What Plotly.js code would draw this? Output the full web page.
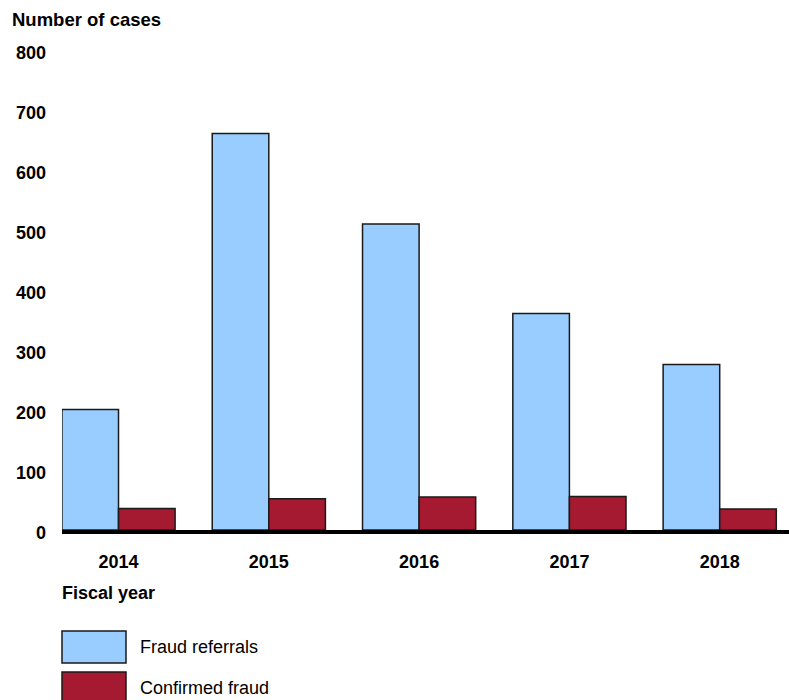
<!DOCTYPE html>
<html>
<head>
<meta charset="utf-8">
<script src="https://cdn.plot.ly/plotly-3.0.1.min.js"></script>
<style>
  html, body { margin: 0; padding: 0; background: #fff; overflow: hidden; }
  #chart { width: 789px; height: 700px; }
</style>
</head>
<body>
<div id="chart"></div>
<script>
// Fraud cases by fiscal year
const fiscalYears = ['2014', '2015', '2016', '2017', '2018'];
const fraudReferrals = [201, 661, 510, 361, 276];
const confirmedFraud = [36, 52, 55, 56, 35];
const yTickValues = [0, 100, 200, 300, 400, 500, 600, 700, 800];

const seriesNames = ['Fraud referrals', 'Confirmed fraud'];
const seriesColors = ['#99ccff', '#a51931'];

const FONT = 'Liberation Sans, Arial, Helvetica, sans-serif';
const outline = { color: '#1a1a1a', width: 1.5 };

const traces = [
  { type: 'bar', name: seriesNames[0], x: fiscalYears, y: fraudReferrals,
    marker: { color: seriesColors[0], line: outline }, hoverinfo: 'x+y+name' },
  { type: 'bar', name: seriesNames[1], x: fiscalYears, y: confirmedFraud,
    marker: { color: seriesColors[1], line: outline }, hoverinfo: 'x+y+name' }
];

// Plot area spans 62..789 px horizontally and 50..530 px vertically.
const plotL = 62, plotR = 789, plotT = 50, plotB = 530;
const pw = plotR - plotL, ph = plotB - plotT;
const px = v => (v - plotL) / pw;
const py = v => (plotB - v) / ph;

// Custom legend: large swatches with labels beneath the axis
const shapes = [], annotations = [];
seriesNames.forEach((name, i) => {
  const top = 631 + i * 41;
  shapes.push({
    type: 'rect', xref: 'paper', yref: 'paper',
    x0: px(62), x1: px(126), y0: py(top + 32), y1: py(top),
    fillcolor: seriesColors[i], line: { color: '#1a1a1a', width: 1.5 }
  });
  annotations.push({
    xref: 'paper', yref: 'paper', x: px(138), y: py(top + 16),
    xanchor: 'left', yanchor: 'middle', showarrow: false, text: name,
    font: { family: FONT, size: 18, color: '#000' }
  });
});
annotations.push({
  xref: 'paper', yref: 'paper', x: px(60), y: py(593),
  xanchor: 'left', yanchor: 'middle', showarrow: false, text: 'Fiscal year',
  font: { family: FONT, size: 18, color: '#000', weight: 'bold' }
});

const layout = {
  width: 789, height: 700,
  margin: { l: plotL, r: 789 - plotR, t: plotT, b: 700 - plotB, pad: 0 },
  paper_bgcolor: '#fff', plot_bgcolor: '#fff',
  showlegend: false,
  barmode: 'group', bargap: 0.247, bargroupgap: 0,
  title: {
    text: 'Number of cases', xref: 'container', yref: 'container',
    x: 12 / 789, xanchor: 'left', y: 1 - 20 / 700, yanchor: 'middle',
    font: { family: FONT, size: 18.5, color: '#000', weight: 'bold' }
  },
  xaxis: {
    type: 'category', categoryorder: 'array', categoryarray: fiscalYears,
    range: [-0.376, -0.376 + pw / 150.3],
    showline: true, linecolor: '#000', linewidth: 4,
    showgrid: false, zeroline: false, ticks: '',
    ticklabelstandoff: 12,
    tickfont: { family: FONT, size: 18, color: '#000', weight: 'bold' }
  },
  yaxis: {
    range: [0, 800], tickvals: yTickValues, ticktext: yTickValues.map(String),
    showline: false, showgrid: false, zeroline: false, ticks: '',
    ticklabelstandoff: 15, ticklabelshift: 3,
    tickfont: { family: FONT, size: 18, color: '#000', weight: 'bold' }
  },
  shapes: shapes,
  annotations: annotations
};

Plotly.newPlot('chart', traces, layout, { displayModeBar: false, staticPlot: true });
</script>
</body>
</html>
